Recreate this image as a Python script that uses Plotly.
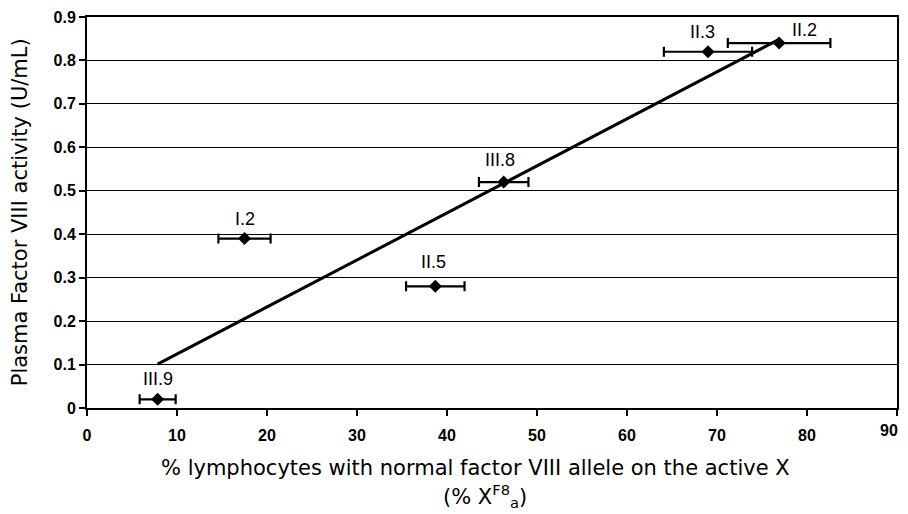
import plotly.graph_objects as go

labels = ["III.9", "I.2", "II.5", "III.8", "II.3", "II.2"]
x_pct = [7.85, 17.5, 38.7, 46.3, 69.0, 76.9]
x_err = [2.0, 2.9, 3.25, 2.75, 4.9, 5.7]
y_act = [0.02, 0.39, 0.28, 0.52, 0.82, 0.84]
x_ticks = [0, 10, 20, 30, 40, 50, 60, 70, 80, 90]
y_ticks = [0, 0.1, 0.2, 0.3, 0.4, 0.5, 0.6, 0.7, 0.8, 0.9]
y_ticktext = ["0", "0.1", "0.2", "0.3", "0.4", "0.5", "0.6", "0.7", "0.8", "0.9"]

# label offsets (pixels)
lab_dx = [0, 0, -2, -4, -6, 25]
lab_dy = [20, 20, 24, 22, 20, 13]

# linear fit
n = len(x_pct)
mx = sum(x_pct) / n
my = sum(y_act) / n
sxx = sum((a - mx) ** 2 for a in x_pct)
sxy = sum((a - mx) * (b - my) for a, b in zip(x_pct, y_act))
slope = sxy / sxx
icpt = my - slope * mx
fx = [min(x_pct), max(x_pct)]
fy = [icpt + slope * v for v in fx]

FONT = "Liberation Sans, Arial"
TFONT = "DejaVu Sans, Liberation Sans"

# last x tick label drawn separately (it sits at the right edge, slightly raised)
x_ticktext = [str(v) for v in x_ticks[:-1]] + [""]

fig = go.Figure()
fig.add_trace(go.Scatter(x=fx, y=fy, mode="lines",
                         line=dict(color="black", width=3), showlegend=False))
fig.add_trace(go.Scatter(
    x=x_pct, y=y_act, mode="markers",
    marker=dict(symbol="diamond", size=10, color="black"),
    error_x=dict(type="data", array=x_err, color="black", thickness=2.2, width=5),
    showlegend=False))

for lb, xv, yv, dx, dy in zip(labels, x_pct, y_act, lab_dx, lab_dy):
    fig.add_annotation(x=xv, y=yv, text=lb, showarrow=False, xshift=dx, yshift=dy,
                       font=dict(family=FONT, size=18, color="black"))

fig.add_annotation(x=x_ticks[-1], y=0, text=str(x_ticks[-1]), showarrow=False,
                   xanchor="right", yanchor="middle", xshift=3, yshift=-22,
                   font=dict(family=FONT, size=16, color="black", weight="bold"))

# axis titles as annotations (to match line spacing)
fig.add_annotation(xref="paper", yref="paper", x=0.480, y=-0.153, yanchor="middle",
                   text="% lymphocytes with normal factor VIII allele on the active X",
                   showarrow=False, font=dict(family=TFONT, size=21, color="black"))
fig.add_annotation(xref="paper", yref="paper", x=0.491, y=-0.226, yanchor="middle",
                   text="(% X<sup>F8</sup><sub>a</sub>)",
                   showarrow=False, font=dict(family=TFONT, size=21, color="black"))
fig.add_annotation(xref="paper", yref="paper", x=-0.083, y=0.5, xanchor="center",
                   yanchor="middle", textangle=-90,
                   text="Plasma Factor VIII activity (U/mL)",
                   showarrow=False, font=dict(family=TFONT, size=21, color="black"))

# page body has an 8px margin, so the figure is sized/offset to compensate
fig.update_layout(
    width=900, height=506,
    margin=dict(l=79, r=11, t=9, b=106),
    paper_bgcolor="white", plot_bgcolor="white",
    font=dict(family=FONT, color="black"),
    xaxis=dict(range=[0, 90], tickvals=x_ticks, ticktext=x_ticktext,
               showgrid=False, zeroline=False,
               showline=True, linecolor="black", linewidth=2, mirror=True,
               ticks="outside", ticklen=6, tickwidth=2, tickcolor="black",
               ticklabelstandoff=6, automargin=False,
               tickfont=dict(size=16, family=FONT, weight="bold")),
    yaxis=dict(range=[0, 0.9], tickvals=y_ticks, ticktext=y_ticktext,
               showgrid=True, gridcolor="black", gridwidth=1.3, zeroline=False,
               showline=True, linecolor="black", linewidth=2, mirror=True,
               ticks="outside", ticklen=6, tickwidth=1.5, tickcolor="black",
               automargin=False,
               tickfont=dict(size=16, family=FONT, weight="bold")),
)
fig.write_html("out.html")
